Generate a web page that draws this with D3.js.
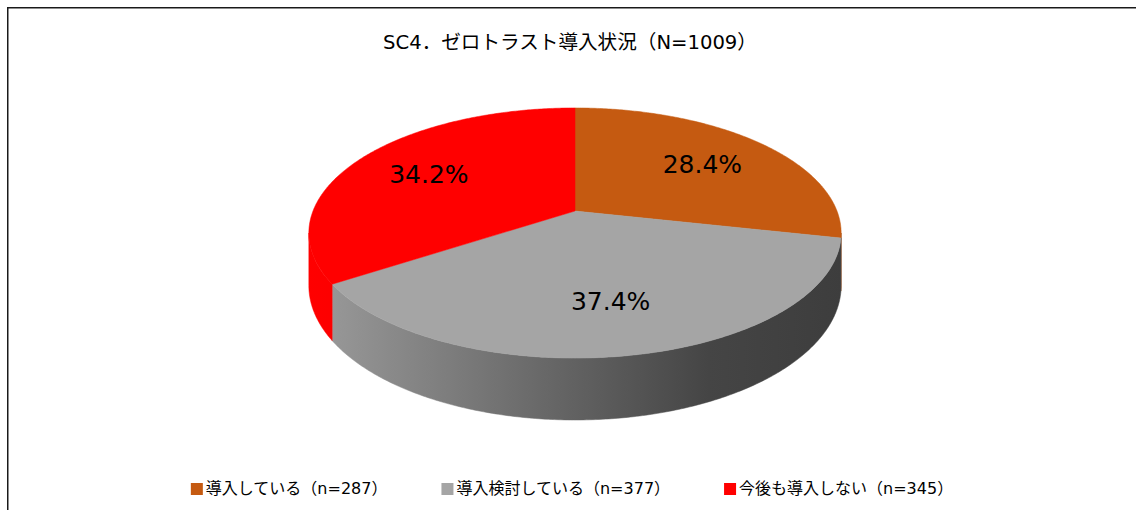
<!DOCTYPE html>
<html>
<head>
<meta charset="utf-8">
<script src="https://cdn.jsdelivr.net/npm/d3@7"></script>
<style>
body { margin: 0; background: #fff; }
svg { display: block; }
text { font-family: "DejaVu Sans", "Noto Sans CJK JP", sans-serif; fill: #000; }
</style>
</head>
<body>
<svg id="chart"></svg>
<script>
const categories = ["導入している", "導入検討している", "今後も導入しない"];
const counts = [287, 377, 345];
const colors = ["#C55A11", "#A5A5A5", "#FF0000"];

const width = 1136, height = 510;

// projected 3d disk
const cx = 575, cy = 211;
const R = 262, RY = 121.2, H = 51, D = 5.68;

function proj(phi, r, h) {
	const u = r * Math.sin(phi), v = -r * Math.cos(phi);
	const s = D / (D - v);
	return [cx + R * u * s, cy + (RY * v + H * h) * s];
}

function arcPoints(a0, a1, r, h) {
	const n = Math.max(2, Math.ceil((a1 - a0) / 0.01));
	return d3.range(n + 1).map(i => proj(a0 + (a1 - a0) * i / n, r, h));
}

const total = d3.sum(counts);
const dataset = categories.map((c, i) => ({ name: c, count: counts[i], color: colors[i] }));

const pie = d3.pie().sort(null).value(d => d.count);
const arcs = pie(dataset);

const line = d3.line();
const fmt = d3.format(".1%");

const svg = d3.select("#chart")
	.attr("width", width)
	.attr("height", height);

// frame
svg.append("rect")
	.attr("x", 7.75)
	.attr("y", 7.75)
	.attr("width", 1150)
	.attr("height", 520)
	.attr("fill", "none")
	.attr("stroke", "#1a1a1a")
	.attr("stroke-width", 1.5);

svg.append("text")
	.attr("x", 570)
	.attr("y", 49)
	.attr("text-anchor", "middle")
	.style("font-size", "19.6px")
	.text(`SC4．ゼロトラスト導入状況（N=${total}）`);

const defs = svg.append("defs");

const grads = [
	[["0", "#a44a0e"], ["1", "#8a3e0b"]],
	[["0", "#9c9c9c"], ["0.45", "#676767"], ["0.75", "#454545"], ["1", "#3d3d3d"]],
	[["0", "#ff0000"], ["1", "#cc0000"]]
];

grads.forEach((stops, i) => {
	const g = defs.append("linearGradient")
		.attr("id", "side" + i)
		.attr("gradientUnits", "userSpaceOnUse")
		.attr("x1", cx - R * 1.02)
		.attr("x2", cx + R * 1.02)
		.attr("y1", 0)
		.attr("y2", 0);
	g.selectAll("stop")
		.data(stops)
		.enter()
		.append("stop")
		.attr("offset", d => d[0])
		.attr("stop-color", d => d[1]);
});

// visible part of the side wall
const phiL = Math.acos(-1 / D), phiR = 2 * Math.PI - phiL;

svg.append("g")
	.selectAll("path")
	.data(arcs.filter(d => d.endAngle > phiL && d.startAngle < phiR))
	.enter()
	.append("path")
	.attr("d", d => {
		const a0 = Math.max(d.startAngle, phiL), a1 = Math.min(d.endAngle, phiR);
		const pts = arcPoints(a0, a1, 1, 0).concat(arcPoints(a0, a1, 1, 1).reverse());
		return line(pts) + "Z";
	})
	.attr("fill", d => `url(#side${d.index})`)
	.attr("stroke", d => `url(#side${d.index})`)
	.attr("stroke-width", 0.5);

// top faces
svg.append("g")
	.selectAll("path")
	.data(arcs)
	.enter()
	.append("path")
	.attr("d", d => line([proj(0, 0, 0)].concat(arcPoints(d.startAngle, d.endAngle, 1, 0))) + "Z")
	.attr("fill", d => d.data.color)
	.attr("stroke", d => d.data.color)
	.attr("stroke-width", 0.5);

// data labels
const labelPos = d => proj((d.startAngle + d.endAngle) / 2, 0.67, 0);

svg.append("g")
	.selectAll("text")
	.data(arcs)
	.enter()
	.append("text")
	.attr("x", d => labelPos(d)[0])
	.attr("y", d => labelPos(d)[1] + 9)
	.attr("text-anchor", "middle")
	.style("font-size", "25px")
	.text(d => fmt(d.data.count / total));

// legend
const legend = svg.append("g").attr("class", "legend");
const items = legend.selectAll("g")
	.data(dataset)
	.enter()
	.append("g");

items.append("rect")
	.attr("x", 0)
	.attr("y", -11)
	.attr("width", 12)
	.attr("height", 12)
	.attr("fill", d => d.color);

items.append("text")
	.attr("x", 15)
	.attr("y", 0)
	.style("font-size", "16px")
	.text(d => `${d.name}（n=${d.count}）`);

const gap = 54;
let xPos = 0;
const widths = [];
items.each(function() {
	widths.push(15 + d3.select(this).select("text").node().getComputedTextLength());
});
const legendW = d3.sum(widths) + gap * (widths.length - 1);
items.attr("transform", (d, i) => {
	const t = `translate(${xPos},0)`;
	xPos += widths[i] + gap;
	return t;
});
legend.attr("transform", `translate(${572 - legendW / 2},494)`);
</script>
</body>
</html>
